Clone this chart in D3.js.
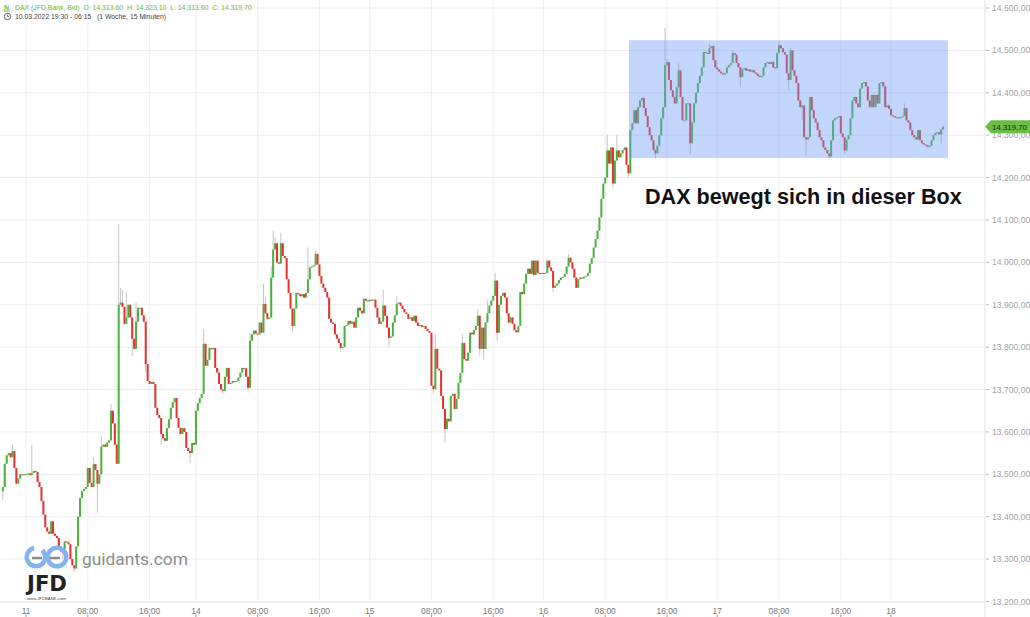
<!DOCTYPE html>
<html><head><meta charset="utf-8">
<script src="https://cdn.jsdelivr.net/npm/d3@7"></script>
<style>
body{margin:0;background:#fff;}
svg{display:block;font-family:"Liberation Sans",Arial,sans-serif;}
</style>
</head><body>
<svg id="chart" width="1030" height="617"></svg>
<script>
// ---------------- DATA (15-minute candles, closes) ----------------
const days = ["10","11","14","15","16","17","18"];
const sessionStart = ["19:30","00:00","00:00","00:00","00:00","00:00","00:00"];
const firstOpen = 13460;
const close10 = [13470,13525,13545,13550,13540,13555,13515,13478,13490,13500,13498,13500];
const close11 = [13500,13502,13498,13503,13508,13505,13482,13470,13437,13405,
 13375,13365,13360,13389,13360,13355,13350,13330,13318,13315,
 13342,13340,13335,13300,13285,13278,13330,13400,13444,13460,
 13465,13470,13515,13480,13470,13524,13510,13478,13500,13565,
 13570,13565,13575,13580,13650,13620,13570,13525,13900,13905,
 13895,13855,13870,13900,13870,13820,13796,13860,13893,13893,
 13875,13860,13760,13720,13713,13718,13713,13657,13640,13633,
 13595,13585,13579,13609,13630,13657,13670,13680,13633,13610,
 13595,13609,13600,13562,13555,13550,13574,13570];
const close14 = [13650,13668,13680,13690,13808,13756,13770,13798,13795,13798,
 13751,13740,13713,13700,13697,13730,13751,13713,13715,13720,
 13718,13720,13728,13740,13751,13750,13730,13704,13815,13830,
 13839,13832,13830,13858,13834,13902,13880,13867,13870,13964,
 14030,14045,14000,13997,14045,14015,14010,13960,13928,13891,
 13850,13891,13928,13925,13920,13925,13917,13928,13960,13988,
 13990,13993,14020,13995,13968,13950,13940,13930,13917,13867,
 13858,13855,13830,13820,13810,13798,13800,13850,13852,13862,
 13855,13860,13846,13870,13893,13886,13880,13914,13910,13908];
const close15 = [13912,13910,13912,13893,13870,13855,13860,13898,13874,13846,
 13822,13825,13858,13875,13902,13905,13898,13890,13882,13878,
 13867,13870,13862,13874,13858,13850,13852,13848,13850,13843,
 13838,13834,13709,13701,13796,13749,13745,13685,13654,13607,
 13631,13625,13685,13690,13654,13678,13716,13739,13810,13772,
 13768,13787,13834,13830,13840,13850,13874,13796,13846,13796,
 13858,13880,13898,13910,13921,13957,13834,13900,13921,13928,
 13917,13880,13858,13870,13855,13840,13835,13850,13930,13925,
 13950,13973,13985,13973,14004,13970,14004,13975,13973,13975];
const close16 = [13973,13975,14004,13988,13980,13940,13945,13950,13958,13964,
 13966,13973,13990,14011,14000,13985,13964,13940,13960,13964,
 13962,13966,13968,13975,13997,14010,14035,14055,14075,14106,
 14150,14186,14200,14264,14233,14271,14186,14240,14264,14248,
 14257,14265,14271,14230,14210,14312,14328,14359,14328,14366,
 14382,14388,14364,14345,14319,14300,14288,14265,14257,14275,
 14300,14340,14366,14465,14472,14430,14406,14390,14375,14413,
 14453,14390,14335,14335,14375,14375,14281,14330,14375,14400,
 14423,14440,14460,14496,14494,14492,14505,14510,14477,14460];
const close17 = [14455,14450,14446,14443,14446,14460,14465,14470,14494,14490,
 14470,14460,14437,14455,14458,14452,14455,14450,14453,14448,
 14445,14440,14437,14440,14460,14470,14472,14468,14473,14460,
 14458,14494,14512,14505,14496,14490,14446,14430,14500,14453,
 14440,14423,14382,14366,14370,14295,14290,14295,14390,14359,
 14340,14330,14312,14295,14288,14271,14265,14257,14250,14288,
 14335,14340,14342,14345,14304,14295,14264,14290,14300,14340,
 14382,14390,14375,14366,14410,14423,14425,14415,14382,14366,
 14395,14366,14395,14375,14423,14425,14415,14366,14370,14362];
const close18 = [14347,14345,14342,14342,14340,14342,14345,14364,14335,14330,
 14312,14300,14295,14290,14312,14288,14281,14278,14276,14272,
 14275,14288,14300,14305,14307,14302,14313.6,14319.7];
const closesByDay = [close10,close11,close14,close15,close16,close17,close18];

// notable wicks [day, candle-of-day, price]
const wickHighs = [["10",5,13570],["11",3,13570],["11",35,13540],["11",39,13590],["11",44,13665],
 ["11",48,14091],["11",49,13940],["11",50,13935],["11",52,13930],["11",57,13905],
 ["14",4,13843],["14",28,13835],["14",35,13950],["14",36,13920],["14",39,13990],["14",40,14075],
 ["14",41,14060],["14",44,14070],["14",58,14035],["14",62,14030],
 ["15",7,13935],["15",14,13920],["15",34,13830],["15",48,13830],["15",56,13890],["15",61,13910],["15",65,13976],
 ["16",13,14020],["16",33,14300],["16",38,14300],["16",63,14553],["16",64,14480],["16",70,14470],["16",86,14515],
 ["17",8,14500],["17",32,14524],["17",38,14505],["18",7,14375],["18",27,14323.1]];
const wickLows = [["10",0,13440],["11",19,13300],["11",25,13270],["11",37,13410],["11",55,13780],
 ["11",62,13740],["11",70,13570],["11",85,13527],
 ["14",14,13690],["14",27,13695],["14",50,13835],["14",75,13790],
 ["15",10,13802],["15",33,13690],["15",39,13574],["15",57,13780],["15",59,13770],["15",66,13815],
 ["16",5,13930],["16",36,14175],["16",44,14200],["16",58,14245],["16",76,14255],
 ["17",12,14413],["17",37,14406],["17",44,14335],["17",46,14250],["17",58,14245],["17",66,14255],
 ["18",26,14281]];

const yTicks = [13200,13300,13400,13500,13600,13700,13800,13900,14000,14100,14200,14300,14400,14500,14600];
const xTickTimes = ["00:00","08:00","16:00"];
const instrument = "DAX (JFD Bank, Bid)";
const periodText = "10.03.2022 19:30 - 06:15   (1 Woche, 15 Minuten)";
const boxTop = 14524, boxBottom = 14246, boxStartDay = "16", boxStartK = 45;
const annotation = "DAX bewegt sich in dieser Box";

// ---------------- BUILD ----------------
const de = d3.formatLocale({decimal:",", thousands:".", grouping:[3], currency:["","€"]});
const fmt = de.format(",.2f");

const candles = [];
let prev = firstOpen;
days.forEach((d, di) => {
  const [hh, mm] = sessionStart[di].split(":").map(Number);
  closesByDay[di].forEach((c, k) => {
    const mins = hh*60 + mm + 15*k;
    const time = String(Math.floor(mins/60)).padStart(2,"0") + ":" + String(mins%60).padStart(2,"0");
    candles.push({day:d, k, time, o:prev, c, h:Math.max(prev,c), l:Math.min(prev,c)});
    prev = c;
  });
});
candles.forEach((d,i)=>d.i=i);
const find = (d,k) => candles.find(q => q.day===d && q.k===k);
wickHighs.forEach(([d,k,v]) => { const q = find(d,k); if (q) q.h = Math.max(q.h, v); });
wickLows.forEach(([d,k,v]) => { const q = find(d,k); if (q) q.l = Math.min(q.l, v); });

const W = 1030, H = 617, plotR = 985, plotB = 602;
const svg = d3.select("#chart");
const x = d3.scaleLinear().domain([find("11",0).i, find("18",0).i]).range([26, 891]);
const y = d3.scaleLinear().domain([13200, 14600]).range([601.5, 8]);

const ticks = candles.filter(d => xTickTimes.includes(d.time));

// grid
const grid = svg.append("g");
grid.selectAll("line.h").data(yTicks).join("line")
  .attr("x1",0).attr("x2",plotR).attr("y1",d=>y(d)).attr("y2",d=>y(d))
  .attr("stroke","#ececec").attr("stroke-width",1);
grid.selectAll("line.v").data(ticks).join("line")
  .attr("x1",d=>x(d.i)).attr("x2",d=>x(d.i)).attr("y1",0).attr("y2",plotB)
  .attr("stroke","#efefef").attr("stroke-width",1);

// candles
const cg = svg.append("g");
cg.selectAll("line.w").data(candles).join("line")
  .attr("x1",d=>x(d.i)).attr("x2",d=>x(d.i)).attr("y1",d=>y(d.h)).attr("y2",d=>y(d.l))
  .attr("stroke","#c4c4c4").attr("stroke-width",1);
const bw = 2.0;
cg.selectAll("rect").data(candles).join("rect")
  .attr("x",d=>x(d.i)-bw/2).attr("width",bw)
  .attr("y",d=>y(Math.max(d.o,d.c)))
  .attr("height",d=>Math.max(1, Math.abs(y(d.o)-y(d.c))))
  .attr("fill",d=>d.c>=d.o ? "#4caf3e" : "#e3312d");

// box
const bStart = find(boxStartDay, boxStartK).i, bEnd = candles.length-1;
svg.append("rect")
  .attr("x", x(bStart-0.7)).attr("width", x(bEnd+2.5)-x(bStart-0.7))
  .attr("y", y(boxTop)).attr("height", y(boxBottom)-y(boxTop))
  .attr("fill","rgb(110,155,245)").attr("fill-opacity",0.42);

// annotation
function fit(sel, w){ const l = sel.node().getComputedTextLength(); const fs = parseFloat(sel.attr("font-size")); sel.attr("font-size", fs*w/l); return sel; }
fit(svg.append("text").attr("x",645).attr("y",204).attr("font-size",20).attr("font-weight","bold")
  .attr("fill","#111").text(annotation), 317);

// axes lines
svg.append("line").attr("x1",0).attr("x2",plotR).attr("y1",plotB).attr("y2",plotB).attr("stroke","#e2e2e2");
svg.append("line").attr("x1",plotR).attr("x2",plotR).attr("y1",0).attr("y2",H).attr("stroke","#e2e2e2");

// y axis
const ya = svg.append("g");
ya.selectAll("line").data(yTicks).join("line")
  .attr("x1",plotR+1).attr("x2",plotR+4).attr("y1",d=>y(d)).attr("y2",d=>y(d)).attr("stroke","#bbb");
ya.selectAll("text").data(yTicks).join("text")
  .attr("x",992).attr("y",d=>y(d)).attr("dy","0.35em").attr("font-size",8.6).attr("fill","#a2a2a2")
  .text(d=>fmt(d));

// x axis
const xa = svg.append("g");
xa.selectAll("text").data(ticks).join("text")
  .attr("x",d=>x(d.i)).attr("y",611).attr("dy","0.35em").attr("text-anchor","middle")
  .attr("font-size",8.4).attr("fill","#777")
  .text(d=>d.time==="00:00" ? d.day : d.time);
xa.selectAll("line").data(ticks).join("line")
  .attr("x1",d=>x(d.i)).attr("x2",d=>x(d.i)).attr("y1",614.5).attr("y2",617).attr("stroke","#999");

// last price tag
const last = candles[candles.length-1];
const ly = y(last.c);
svg.append("path").attr("d",`M${plotR},${ly} L${plotR+6},${ly-6.5} L${W},${ly-6.5} L${W},${ly+6.5} L${plotR+6},${ly+6.5} Z`)
  .attr("fill","#6cbd45");
fit(svg.append("text").attr("x",992).attr("y",ly).attr("dy","0.36em").attr("font-size",8.6)
  .attr("fill","#142a08").text(fmt(last.c)), 35);

// header
const hdr = svg.append("g");
hdr.append("text").attr("x",4).attr("y",9.5).attr("font-size",7).attr("font-weight","bold").attr("fill","#6cbd45").text("N");
hdr.append("line").attr("x1",4).attr("x2",10).attr("y1",11).attr("y2",11).attr("stroke","#6cbd45");
const h1 = `${instrument}  O: ${fmt(last.o)}  H: ${fmt(last.h)}  L: ${fmt(last.l)}  C: ${fmt(last.c)}`;
fit(hdr.append("text").attr("x",15).attr("y",9.5).attr("font-size",8).attr("fill","#6cbd45")
  .style("white-space","pre").text(h1), 237);
hdr.append("circle").attr("cx",7.5).attr("cy",16.5).attr("r",3.2).attr("fill","none").attr("stroke","#555").attr("stroke-width",0.9);
hdr.append("path").attr("d","M7.5,14.6 V16.5 H9.2").attr("fill","none").attr("stroke","#555").attr("stroke-width",0.8);
fit(hdr.append("text").attr("x",15).attr("y",19.3).attr("font-size",8).attr("fill","#444")
  .style("white-space","pre").text(periodText), 151);

// watermark
const wm = svg.append("g");
wm.append("path").attr("d", d3.arc()({innerRadius:7, outerRadius:11.5, startAngle:0.75, endAngle:2*Math.PI-0.2}))
  .attr("transform","translate(36,557)").attr("fill","#84b4f0");
wm.append("circle").attr("cx",57).attr("cy",557).attr("r",9.3).attr("fill","none").attr("stroke","#84b4f0").attr("stroke-width",4.5);
wm.append("line").attr("x1",32).attr("x2",42).attr("y1",558).attr("y2",558).attr("stroke","#8a8a8a").attr("stroke-width",2.4);
wm.append("line").attr("x1",50).attr("x2",60).attr("y1",558).attr("y2",558).attr("stroke","#8a8a8a").attr("stroke-width",2.4);
fit(wm.append("text").attr("x",82).attr("y",565).attr("font-size",19).attr("font-family","Roboto, 'Open Sans', sans-serif")
  .attr("fill","#8c8c8c").text("guidants.com"), 106);
fit(wm.append("text").attr("x",27).attr("y",591).attr("font-size",22).attr("font-weight","bold")
  .attr("font-family","'DejaVu Sans', sans-serif").attr("fill","#222").text("JFD"), 40);
fit(wm.append("text").attr("x",27).attr("y",599.5).attr("font-size",4).attr("fill","#444").text("www.JFDBANK.com"), 39);
</script>
</body></html>
